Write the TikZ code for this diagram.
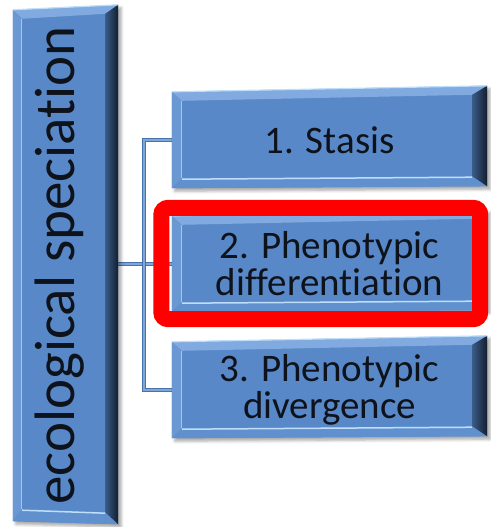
\documentclass[tikz,border=0pt]{standalone}
\usepackage{fontspec}
\setmainfont{Carlito}[Ligatures=NoCommon]
\usetikzlibrary{calc,backgrounds,shadows.blur}

\definecolor{tileface}{RGB}{88,136,199}
\definecolor{tiletop}{RGB}{128,170,224}
\definecolor{tileleft}{RGB}{106,152,210}
\definecolor{tilebottom}{RGB}{96,144,206}
\definecolor{tileglow}{RGB}{190,222,250}
\definecolor{tiledarkA}{RGB}{58,92,136}
\definecolor{tiledarkB}{RGB}{18,30,46}
\definecolor{linkouter}{RGB}{70,114,174}
\definecolor{linkinner}{RGB}{128,166,214}
\definecolor{marker}{RGB}{255,0,0}
\definecolor{ink}{RGB}{14,18,26}

\tikzset{
  tile/.style={inner sep=0pt, align=center, text=ink,
    font=\fontsize{39}{37}\selectfont},
  spine/.style={inner sep=0pt, text=ink,
    font=\fontsize{57}{60}\selectfont},
  link/.style={draw=linkouter, line width=1.3pt,
    double=linkinner, double distance=1.6pt},
  frame/.style={draw=marker, line width=16pt, rounded corners=7pt},
  tileshadow/.style={blur shadow={shadow xshift=3pt, shadow yshift=-3pt,
    shadow blur radius=3pt, shadow opacity=35}}
}

% bevelled tile behind node #1
% #2/#3: vertical offset of the top-right / bottom-right corner
% #4..#7: left, top, right, bottom bevel widths
\newcommand\bevelbox[7]{%
  \coordinate (#1-TL) at (#1.north west);
  \coordinate (#1-TR) at ($(#1.north east)+(0,#2)$);
  \coordinate (#1-BR) at ($(#1.south east)+(0,#3)$);
  \coordinate (#1-BL) at (#1.south west);
  \coordinate (#1-tl) at ($(#1-TL)+(#4,#5)$);
  \coordinate (#1-tr) at ($(#1-TR)+(-#6,#5)$);
  \coordinate (#1-br) at ($(#1-BR)+(-#6,-#7)$);
  \coordinate (#1-bl) at ($(#1-BL)+(#4,-#7)$);
  \fill[tileface, tileshadow] (#1-TL) -- (#1-TR) -- (#1-BR) -- (#1-BL) -- cycle;
  \fill[tiletop] (#1-TL) -- (#1-TR) -- (#1-tr) -- (#1-tl) -- cycle;
  \fill[tileleft] (#1-TL) -- (#1-tl) -- (#1-bl) -- (#1-BL) -- cycle;
  \fill[tilebottom] (#1-BL) -- (#1-bl) -- (#1-br) -- (#1-BR) -- cycle;
  \shade[left color=tiledarkA, right color=tiledarkB]
    (#1-TR) -- (#1-BR) -- (#1-br) -- (#1-tr) -- cycle;
  \draw[tileglow, line width=1.2pt] (#1-TL) -- (#1-TR);
  \draw[tileglow, line width=1.5pt] ($(#1-bl)+(0,1)$) -- ($(#1-br)+(0,1)$);
  \draw[tiletop!70!white, line width=0.8pt] (#1-tl) -- (#1-bl);
}

\begin{document}
\begin{tikzpicture}[x=1pt, y=-1pt]
  \useasboundingbox (0,0) rectangle (490,527);

  % the category on the left and its three stages
  \node[spine, minimum width=105pt, minimum height=511pt] (eco) at (65.5,265.5)
    {\rotatebox{90}{ecological speciation}\hspace*{12pt}};
  \node[tile, minimum width=315pt, minimum height=96pt] (s1) at (329.5,140)
    {1. Stasis};
  \node[tile, minimum width=315pt, minimum height=96pt] (s2) at (329.5,264)
    {2. Phenotypic\\differentiation};
  \node[tile, minimum width=315pt, minimum height=96pt] (s3) at (329.5,390)
    {3. Phenotypic\\divergence};

  \coordinate (fork) at ($(s2.west)+(-28,0)$);

  \begin{pgfonlayer}{background}
    % tree connectors
    \draw[link] (eco.east |- s2.west) -- (s2.west);
    \draw[link] (s1.west) -| (fork) |- (s3.west);
    % tiles
    \bevelbox{eco}{-5}{3}{9}{9}{13}{12}
    \bevelbox{s1}{-6}{-2}{10}{9}{15}{10}
    \bevelbox{s2}{-6}{-2}{10}{9}{15}{10}
    \bevelbox{s3}{-6}{-2}{10}{9}{15}{10}
  \end{pgfonlayer}

  % highlight round the second stage
  \draw[frame] ($(s2.north west)+(-10.5,-8)$) rectangle ($(s2.south east)+(-7,7)$);
\end{tikzpicture}
\end{document}
